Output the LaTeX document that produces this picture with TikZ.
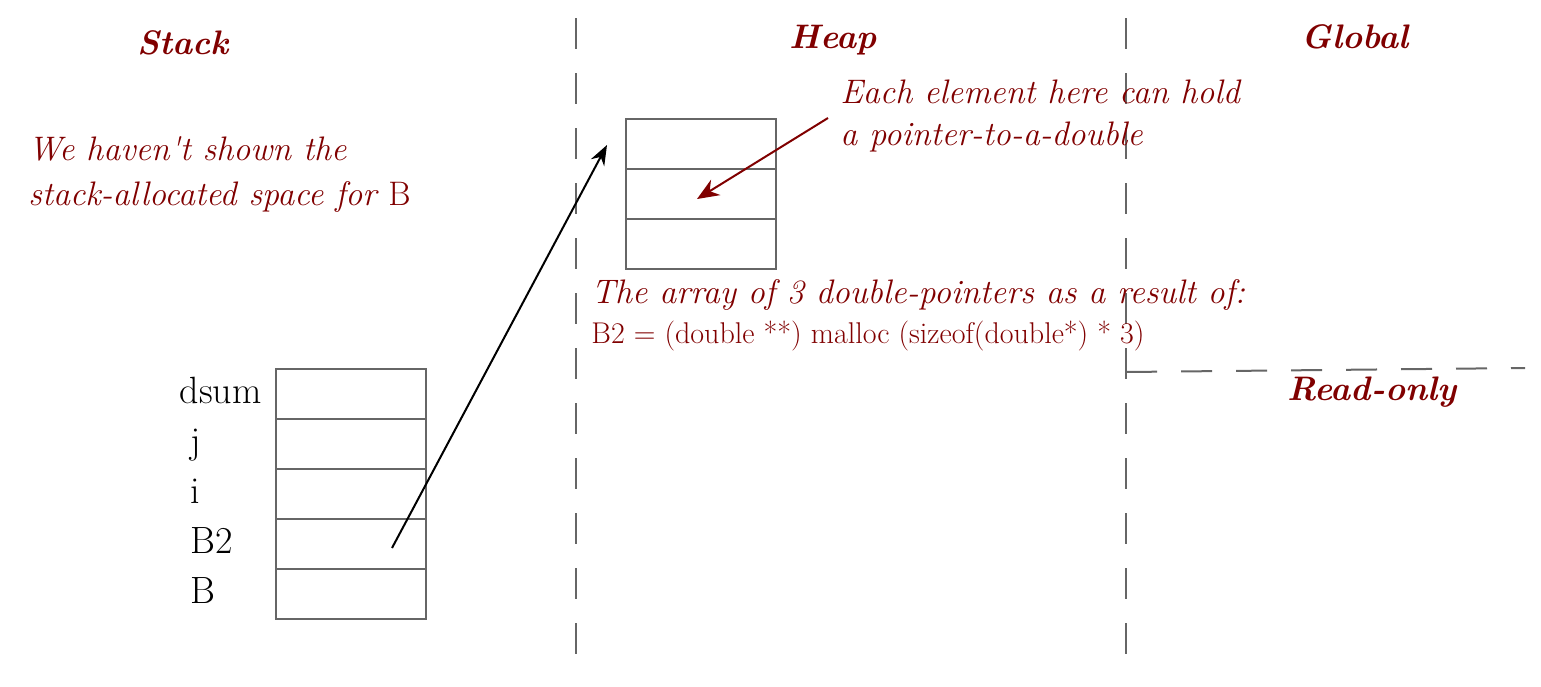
\documentclass[tikz,border=0pt]{standalone}
\usepackage{tikz}
\usetikzlibrary{arrows.meta, positioning, calc}
\definecolor{notered}{RGB}{128,0,0}
\definecolor{cellgray}{RGB}{102,102,102}

\begin{document}
\begin{tikzpicture}[x=0.5pt, y=-0.5pt,
    cell/.style={draw=cellgray, line width=1pt, minimum width=75pt, minimum height=25pt, inner sep=0pt, outer sep=0pt},
    region/.style={text=notered, font=\fontsize{17}{20}\selectfont\bfseries\itshape, inner sep=0pt},
    note/.style={text=notered, font=\fontsize{17}{20}\selectfont\itshape, inner sep=0pt, anchor=base west},
    code/.style={text=notered, font=\fontsize{15}{18}\selectfont, inner sep=0pt, anchor=base west},
    var/.style={font=\fontsize{19}{22}\selectfont, inner sep=0pt, anchor=base west},
    divider/.style={draw=cellgray, line width=1pt, dash pattern=on 15.5pt off 12pt}]
  \useasboundingbox (0,0) rectangle (1541,686);
  % memory regions
  \draw[divider] (576,18) -- (576,660);
  \draw[divider] (1126,18) -- (1126,660);
  \draw[divider] (1126,372) -- (1525,368);
  \node[region] (stack) at (183,43) {Stack};
  \node[region] (heap) at (833,40) {Heap};
  \node[region] (global) at (1355,37) {Global};
  \node[region] (readonly) at (1372,392) {Read-only};
  % stack frame
  \foreach \i in {1,...,5}
    \node[cell] (s\i) at (351,344+50*\i) {};
  \node[var, anchor=base east] (vdsum) at (262,403) {dsum};
  \node[var] (vj) at (190,453) {j};
  \node[var] (vi) at (190,503) {i};
  \node[var] (vbtwo) at (190,553) {B2};
  \node[var] (vb) at (190,603) {B};
  \node[note] (stacknote) at (28,160) {We haven\textquotesingle t shown the};
  \node[note] (stacknote2) at (28,205) {stack-allocated space for \upshape B};
  % heap array
  \foreach \i in {1,2,3}
    \node[cell] (h\i) at (701,94+50*\i) {};
  \node[note] (heapnote) at (840,103) {Each element here can hold};
  \node[note] (heapnote2) at (840,145) {a pointer-to-a-double};
  \node[note] (arraynote) at (591,303) {The array of 3 double-pointers as a result of:};
  \node[code] (mallocline) at (591,343) {B2 = (double **) malloc (sizeof(double*) * 3)};
  % pointers
  \coordinate (ptrend) at (607,145);
  \coordinate (notetail) at (828,118);
  \draw[line width=1pt, -{Stealth[length=10pt, width=7.5pt]}] ([xshift=20.5pt,yshift=-2pt]s4.center) -- (ptrend);
  \draw[notered, line width=1pt, -{Stealth[length=11pt, width=9pt]}] (notetail) -- ([xshift=-2pt,yshift=-2.5pt]h2.center);
\end{tikzpicture}
\end{document}
